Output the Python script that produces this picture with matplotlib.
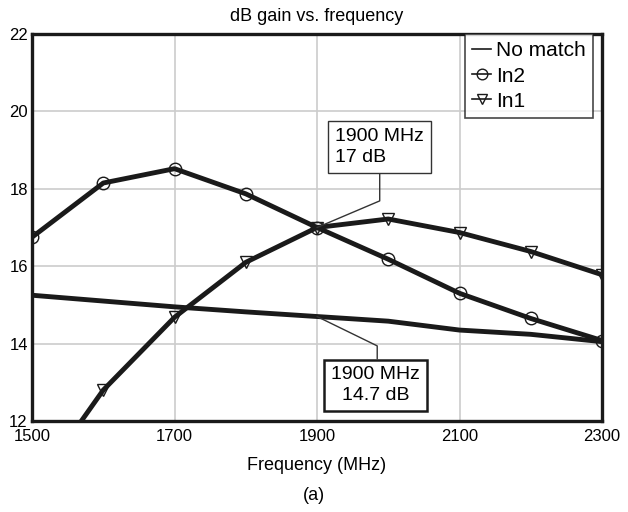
import matplotlib
matplotlib.use("Agg")
import matplotlib.pyplot as plt

freq = [1500, 1600, 1700, 1800, 1900, 2000, 2100, 2200, 2300]
no_match = [15.25, 15.1, 14.95, 14.82, 14.7, 14.58, 14.35, 14.24, 14.05]
in2 = [16.75, 18.15, 18.52, 17.87, 17.0, 16.18, 15.3, 14.65, 14.08]
in1 = [10.2, 12.8, 14.68, 16.1, 17.0, 17.22, 16.87, 16.38, 15.78]
xticks = [1500, 1700, 1900, 2100, 2300]
yticks = [12, 14, 16, 18, 20, 22]

plt.rcParams['font.family'] = ['Liberation Sans', 'DejaVu Sans']

fig = plt.figure(figsize=(6.28, 5.12), dpi=100)
ax = fig.add_axes([0.051, 0.1777, 0.9076, 0.7559])

lw = 3.5
ax.plot(freq, no_match, color='#1a1a1a', lw=lw, label='No match', zorder=3)
ax.plot(freq, in2, color='#1a1a1a', lw=lw, marker='o', ms=9, mfc='none',
        mec='#1a1a1a', mew=1.0, label='In2', zorder=3)
ax.plot(freq, in1, color='#1a1a1a', lw=lw, marker='v', ms=9, mfc='none',
        mec='#1a1a1a', mew=1.0, label='In1', zorder=3)

ax.set_xlim(1500, 2300)
ax.set_ylim(12, 22)
ax.set_xticks(xticks)
ax.set_yticks(yticks)
ax.tick_params(length=0, labelsize=12)
ax.tick_params(axis='x', pad=6)
ax.tick_params(axis='y', pad=3)
ax.grid(True, color='#cccccc', lw=1.2)
ax.set_axisbelow(True)
for s in ax.spines.values():
    s.set_linewidth(2.4)
    s.set_color('#1a1a1a')

ax.set_title('dB gain vs. frequency', fontsize=13, pad=9)
ax.set_xlabel('Frequency (MHz)', fontsize=13, labelpad=9)
fig.text(0.5, 0.032, '(a)', ha='center', va='center', fontsize=13)

leg = ax.legend(loc='upper right', bbox_to_anchor=(0.985, 1.0), fontsize=15,
                handlelength=0.9, handletextpad=0.25, borderaxespad=0.0,
                frameon=True, fancybox=False, borderpad=0.35,
                labelspacing=0.3, markerscale=0.85)
leg.get_frame().set_edgecolor('#1a1a1a')
leg.get_frame().set_linewidth(1.2)
for h in leg.get_lines():
    h.set_linewidth(1.2)

# annotations
ax.annotate('1900 MHz\n17 dB', xy=(1900, 17.0), xytext=(1988, 19.08),
            fontsize=14, ha='center', va='center', multialignment='left',
            linespacing=1.3,
            bbox=dict(boxstyle='square,pad=0.35', fc='white', ec='#333333', lw=1.0),
            arrowprops=dict(arrowstyle='-', color='#333333', lw=1.0,
                            connectionstyle='angle,angleA=-90,angleB=23,rad=0',
                            shrinkA=0, shrinkB=0, relpos=(0.5, 0.0)),
            zorder=4)
ax.annotate('1900 MHz\n14.7 dB', xy=(1900, 14.7), xytext=(1982, 12.92),
            fontsize=14, ha='center', va='center', linespacing=1.3,
            bbox=dict(boxstyle='square,pad=0.35', fc='white', ec='#1a1a1a', lw=1.8),
            arrowprops=dict(arrowstyle='-', color='#333333', lw=1.0,
                            connectionstyle='angle,angleA=90,angleB=-26,rad=0',
                            shrinkA=0, shrinkB=0, relpos=(0.52, 1.0)),
            zorder=4)

fig.savefig('out.png', dpi=100)
